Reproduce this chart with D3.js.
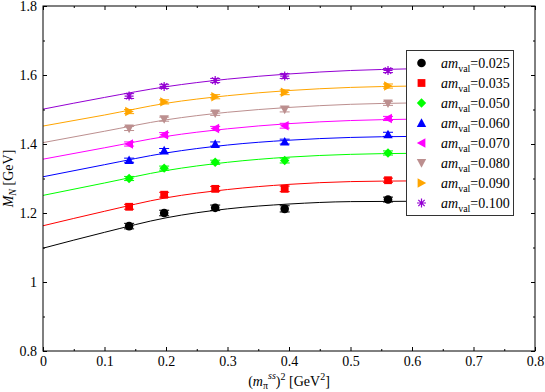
<!DOCTYPE html>
<html>
<head>
<meta charset="utf-8">
<script src="https://cdn.jsdelivr.net/npm/d3@7/dist/d3.min.js"></script>
<style>
  body { margin:0; background:#fff; }
  svg text { font-family:"Liberation Serif","DejaVu Serif",serif; fill:#000; }
</style>
</head>
<body>
<svg id="chart" width="545" height="392"></svg>
<script>
//-----------------------------------------------------------------------------
// DATA
var xPoints  = [0.140, 0.197, 0.280, 0.393, 0.561];          // (m_pi^ss)^2
var fitX     = [0, 0.1, 0.2, 0.3, 0.4, 0.5, 0.6];            // fit curve samples
var amLabels = ["0.025","0.035","0.050","0.060","0.070","0.080","0.090","0.100"];
var xTicks   = [0, 0.1, 0.2, 0.3, 0.4, 0.5, 0.6, 0.7, 0.8];
var yTicks   = [0.8, 1, 1.2, 1.4, 1.6, 1.8];

// M_N points per am_val
var m025 = [1.162, 1.200, 1.215, 1.212, 1.239];
var m035 = [1.218, 1.253, 1.270, 1.270, 1.295];
var m050 = [1.300, 1.330, 1.347, 1.352, 1.374];
var m060 = [1.353, 1.381, 1.400, 1.407, 1.428];
var m070 = [1.400, 1.427, 1.445, 1.453, 1.474];
var m080 = [1.445, 1.472, 1.489, 1.500, 1.518];
var m090 = [1.494, 1.522, 1.537, 1.550, 1.568];
var m100 = [1.539, 1.567, 1.584, 1.597, 1.613];

// error bars
var e025 = [0.008, 0.008, 0.008, 0.009, 0.007];
var e035 = [0.007, 0.007, 0.007, 0.008, 0.006];
var e050 = [0.006, 0.006, 0.006, 0.007, 0.006];
var e060 = [0.006, 0.006, 0.006, 0.007, 0.006];
var e070 = [0.006, 0.006, 0.006, 0.007, 0.006];
var e080 = [0.006, 0.006, 0.006, 0.007, 0.006];
var e090 = [0.006, 0.006, 0.006, 0.007, 0.006];
var e100 = [0.007, 0.006, 0.006, 0.007, 0.006];

// fit curves read at fitX
var f025 = [1.098, 1.144, 1.186, 1.212, 1.226, 1.233, 1.234];
var f035 = [1.163, 1.205, 1.244, 1.268, 1.283, 1.291, 1.293];
var f050 = [1.251, 1.287, 1.323, 1.347, 1.362, 1.370, 1.373];
var f060 = [1.305, 1.340, 1.374, 1.397, 1.411, 1.419, 1.422];
var f070 = [1.356, 1.389, 1.422, 1.444, 1.459, 1.468, 1.472];
var f080 = [1.404, 1.437, 1.470, 1.492, 1.506, 1.515, 1.519];
var f090 = [1.452, 1.484, 1.518, 1.540, 1.555, 1.564, 1.568];
var f100 = [1.501, 1.535, 1.566, 1.588, 1.603, 1.613, 1.618];

var masses = [m025, m035, m050, m060, m070, m080, m090, m100];
var errors = [e025, e035, e050, e060, e070, e080, e090, e100];
var fits   = [f025, f035, f050, f060, f070, f080, f090, f100];
var colors = ["#000000","#ff0000","#00ff00","#0000ff","#ff00ff","#bc8f8f","#ffa500","#9400d3"];
var shapes = ["circle","square","diamond","up","left","down","right","star"];

//-----------------------------------------------------------------------------
// LAYOUT
var L = 43, R = 535, T = 6, B = 351;
var svg = d3.select("#chart");
var x = d3.scaleLinear().domain([0, 0.8]).range([L, R]);
var y = d3.scaleLinear().domain([0.8, 1.8]).range([B, T]);

var series = masses.map(function(m, i){
  return { label: amLabels[i], color: colors[i], shape: shapes[i],
           points: m.map(function(v, j){ return {x: xPoints[j], y: v, e: errors[i][j]}; }),
           fit: fits[i].map(function(v, j){ return {x: fitX[j], y: v}; }) };
});

//-----------------------------------------------------------------------------
// MARKERS
function markerPath(shape){
  switch(shape){
    case "circle":  return "M4.3,0A4.3,4.3 0 1,1 -4.3,0A4.3,4.3 0 1,1 4.3,0Z";
    case "square":  return "M-3.9,-3.9H3.9V3.9H-3.9Z";
    case "diamond": return "M0,-4.7L4.7,0L0,4.7L-4.7,0Z";
    case "up":      return "M0,-4.7L4.7,3.9L-4.7,3.9Z";
    case "down":    return "M0,4.7L4.7,-3.9L-4.7,-3.9Z";
    case "left":    return "M-4.7,0L3.9,-4.7L3.9,4.7Z";
    case "right":   return "M4.7,0L-3.9,-4.7L-3.9,4.7Z";
    case "star":    return "M0,-4.5V4.5M-4.5,0H4.5M-3.2,-3.2L3.2,3.2M-3.2,3.2L3.2,-3.2";
  }
}
function drawMarker(g, shape, color){
  var p = g.append("path").attr("d", markerPath(shape));
  if (shape === "star") p.attr("fill","none").attr("stroke", color).attr("stroke-width", 1.2);
  else p.attr("fill", color).attr("stroke","none");
}

//-----------------------------------------------------------------------------
// FIT CURVES
var line = d3.line().x(function(d){ return x(d.x); }).y(function(d){ return y(d.y); })
             .curve(d3.curveMonotoneX);
svg.append("g").selectAll("path").data(series).enter().append("path")
   .attr("d", function(d){ return line(d.fit); })
   .attr("fill","none")
   .attr("stroke", function(d){ return d.color; })
   .attr("stroke-width", 1);

//-----------------------------------------------------------------------------
// POINTS + ERROR BARS
series.forEach(function(s){
  var g = svg.append("g");
  s.points.forEach(function(p){
    var cx = x(p.x), y1 = y(p.y + p.e), y2 = y(p.y - p.e);
    g.append("path")
     .attr("d", "M"+cx+","+y1+"V"+y2+"M"+(cx-5)+","+y1+"H"+(cx+5)+"M"+(cx-5)+","+y2+"H"+(cx+5))
     .attr("stroke", s.color).attr("stroke-width", 1).attr("fill","none");
    var m = g.append("g").attr("transform", "translate("+cx+","+y(p.y)+")");
    drawMarker(m, s.shape, s.color);
  });
});

//-----------------------------------------------------------------------------
// AXES
var fmt = function(d){ return d === 0 ? "0" : d === 1 ? "1" : d3.format(".1f")(d); };
var xMinor = d3.range(0.05, 0.8, 0.1);
var yMinor = d3.range(0.9, 1.8, 0.2);

svg.append("g").attr("transform","translate(0,"+B+")")
   .call(d3.axisBottom(x).tickValues(xTicks).tickFormat(fmt).tickSizeInner(-4).tickSizeOuter(0).tickPadding(5));
svg.append("g").attr("transform","translate(0,"+B+")")
   .call(d3.axisBottom(x).tickValues(xMinor).tickFormat("").tickSizeInner(-2).tickSizeOuter(0));
svg.append("g").attr("transform","translate(0,"+T+")")
   .call(d3.axisTop(x).tickValues(xTicks).tickFormat("").tickSizeInner(-4).tickSizeOuter(0));
svg.append("g").attr("transform","translate(0,"+T+")")
   .call(d3.axisTop(x).tickValues(xMinor).tickFormat("").tickSizeInner(-2).tickSizeOuter(0));
svg.append("g").attr("transform","translate("+L+",0)")
   .call(d3.axisLeft(y).tickValues(yTicks).tickFormat(fmt).tickSizeInner(-4).tickSizeOuter(0).tickPadding(6));
svg.append("g").attr("transform","translate("+L+",0)")
   .call(d3.axisLeft(y).tickValues(yMinor).tickFormat("").tickSizeInner(-2).tickSizeOuter(0));
svg.append("g").attr("transform","translate("+R+",0)")
   .call(d3.axisRight(y).tickValues(yTicks).tickFormat("").tickSizeInner(-4).tickSizeOuter(0));
svg.append("g").attr("transform","translate("+R+",0)")
   .call(d3.axisRight(y).tickValues(yMinor).tickFormat("").tickSizeInner(-2).tickSizeOuter(0));

svg.selectAll(".tick text").attr("font-size", 14).attr("font-family", "Liberation Serif");
svg.selectAll(".domain").remove();
svg.append("rect").attr("x", L).attr("y", T).attr("width", R-L).attr("height", B-T)
   .attr("fill","none").attr("stroke","#000").attr("stroke-width",1);

//-----------------------------------------------------------------------------
// AXIS TITLES
var xt = svg.append("text").attr("x", (L+R)/2).attr("y", 386)
            .attr("text-anchor","middle").attr("font-size", 14);
xt.append("tspan").text("(");
xt.append("tspan").attr("font-style","italic").text("m");
xt.append("tspan").attr("font-size", 10).attr("dy", 3).text("π");
xt.append("tspan").attr("font-size", 10).attr("font-style","italic").attr("dy", -10).text("ss");
xt.append("tspan").attr("dy", 7).text(")");
xt.append("tspan").attr("font-size", 10).attr("dy", -6).text("2");
xt.append("tspan").attr("dy", 6).text(" [GeV");
xt.append("tspan").attr("font-size", 10).attr("dy", -6).text("2");
xt.append("tspan").attr("dy", 6).text("]");

var yt = svg.append("text").attr("transform","translate(13,"+((T+B)/2)+") rotate(-90)")
            .attr("text-anchor","middle").attr("font-size", 14);
yt.append("tspan").attr("font-style","italic").text("M");
yt.append("tspan").attr("font-style","italic").attr("font-size", 10).attr("dy", 3).text("N");
yt.append("tspan").attr("dy", -3).text(" [GeV]");

//-----------------------------------------------------------------------------
// LEGEND
var lg = svg.append("g");
lg.append("rect").attr("x", 406.5).attr("y", 50.5).attr("width", 107).attr("height", 165)
  .attr("fill","#fff").attr("stroke","#333").attr("stroke-width",1);
series.forEach(function(s, i){
  var ry = 63 + i*20;
  var m = lg.append("g").attr("transform","translate(421.5,"+ry+")");
  drawMarker(m, s.shape, s.color);
  var t = lg.append("text").attr("x", 441).attr("y", ry+4.5).attr("font-size", 14);
  t.append("tspan").attr("font-style","italic").text("am");
  t.append("tspan").attr("font-size", 10).attr("dy", 4).text("val");
  t.append("tspan").attr("dy", -4).text("="+s.label);
});
//-----------------------------------------------------------------------------
</script>
</body>
</html>
